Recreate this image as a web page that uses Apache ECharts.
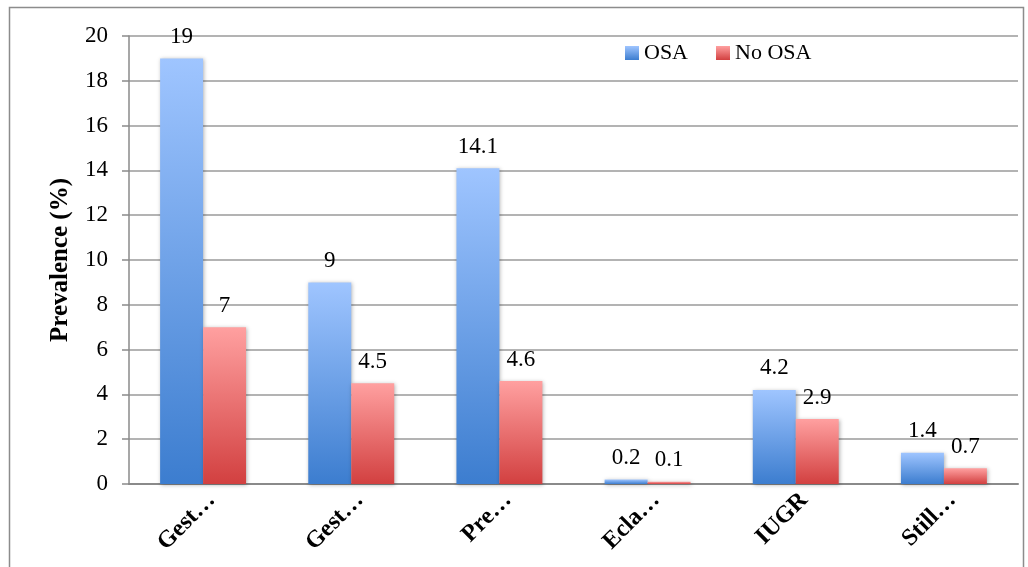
<!DOCTYPE html>
<html>
<head>
<meta charset="utf-8">
<script src="https://cdn.jsdelivr.net/npm/echarts@6/dist/echarts.min.js"></script>
<style>
html,body{margin:0;padding:0;background:#fff;}
#c{width:1028px;height:567px;}
</style>
</head>
<body>
<div id="c"></div>
<script>
var categories = ["Gest…", "Gest…", "Pre…", "Ecla…", "IUGR", "Still…"];
var osaValues = [19, 9, 14.1, 0.2, 4.2, 1.4];
var noOsaValues = [7, 4.5, 4.6, 0.1, 2.9, 0.7];
var yTicks = [0, 2, 4, 6, 8, 10, 12, 14, 16, 18, 20];

var FONT = '"Liberation Serif", "DejaVu Serif", serif';
var chart = echarts.init(document.getElementById('c'));

function grad(top, bottom) {
  return new echarts.graphic.LinearGradient(0, 0, 0, 1, [
    {offset: 0, color: top}, {offset: 1, color: bottom}
  ]);
}

var labelStyle = {show: true, position: 'top', distance: 10, color: '#000', fontFamily: FONT, fontSize: 23};

chart.setOption({
  animation: false,
  graphic: [{
    type: 'rect', left: 7, top: 5,
    shape: {width: 1014, height: 600},
    style: {fill: 'none', stroke: '#8c8c8c', lineWidth: 1.5},
    silent: true, z: -1
  }],
  grid: {left: 129, right: 10, top: 36, bottom: 83, containLabel: false},
  legend: {
    left: 620, top: 37,
    itemWidth: 14, itemHeight: 14, itemGap: 28,
    icon: 'rect',
    textStyle: {fontFamily: FONT, fontSize: 22, color: '#000'},
    data: ['OSA', 'No OSA']
  },
  xAxis: {
    type: 'category',
    data: categories,
    axisLine: {lineStyle: {color: '#8a8a8a', width: 2}},
    axisTick: {show: false},
    axisLabel: {
      rotate: 45, interval: 0, margin: 4, verticalAlign: 'top',
      fontFamily: FONT, fontSize: 24, fontWeight: 'bold', color: '#000'
    }
  },
  yAxis: {
    type: 'value',
    min: 0, max: 20, interval: 2,
    name: 'Prevalence (%)',
    nameLocation: 'middle',
    nameGap: 56,
    nameTextStyle: {fontFamily: FONT, fontSize: 25, fontWeight: 'bold', color: '#000'},
    axisLine: {show: true, lineStyle: {color: '#8a8a8a', width: 1.5}},
    axisTick: {show: true, length: 7, lineStyle: {color: '#8a8a8a', width: 1.5}},
    axisLabel: {
      margin: 21, fontFamily: FONT, fontSize: 23, color: '#000',
      formatter: function (v) { return yTicks.indexOf(v) >= 0 ? String(v) : ''; }
    },
    splitLine: {lineStyle: {color: '#9a9a9a', width: 1.5}}
  },
  series: [
    {
      name: 'OSA', type: 'bar', data: osaValues,
      barGap: '0%', barCategoryGap: '42%',
      itemStyle: {color: grad('#9fc5ff', '#3c7dcf'), shadowBlur: 4, shadowColor: 'rgba(0,0,0,0.3)', shadowOffsetX: 1, shadowOffsetY: 1},
      label: labelStyle
    },
    {
      name: 'No OSA', type: 'bar', data: noOsaValues,
      itemStyle: {color: grad('#ffa0a0', '#d24040'), shadowBlur: 4, shadowColor: 'rgba(0,0,0,0.3)', shadowOffsetX: 1, shadowOffsetY: 1},
      label: labelStyle
    }
  ]
});
</script>
</body>
</html>
